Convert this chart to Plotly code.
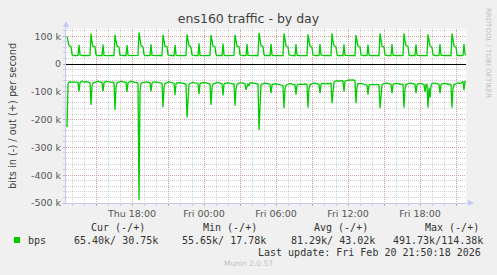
import plotly.graph_objects as go
import pandas as pd

# ---------------- data (k bits/s), one row per 2-hour cycle, 5-min samples ----------------
out_rows = [
    [99, 80, 66, 64, 63, 34, 30, 30, 31, 30, 30, 31, 69, 33, 30, 30, 31, 30, 30, 30, 31, 30, 30, 31],
    [110, 78, 64, 63, 62, 33, 30, 31, 30, 30, 31, 30, 70, 32, 30, 31, 30, 30, 31, 30, 30, 31, 30, 30],
    [105, 82, 65, 63, 61, 32, 31, 30, 30, 31, 30, 30, 68, 33, 30, 30, 31, 30, 30, 31, 30, 30, 30, 31],
    [114, 85, 66, 64, 62, 34, 30, 31, 30, 30, 30, 31, 71, 32, 31, 30, 30, 31, 30, 30, 31, 30, 31, 30],
    [105, 80, 64, 63, 62, 33, 30, 30, 31, 30, 31, 30, 69, 33, 30, 31, 30, 30, 30, 31, 30, 30, 31, 30],
    [107, 83, 66, 64, 61, 33, 31, 30, 30, 31, 30, 30, 75, 32, 30, 30, 31, 30, 31, 30, 30, 31, 30, 30],
    [104, 80, 65, 63, 62, 34, 30, 31, 30, 30, 31, 30, 74, 33, 30, 31, 30, 30, 30, 31, 30, 30, 30, 31],
    [105, 82, 64, 63, 62, 33, 30, 30, 31, 30, 30, 31, 72, 32, 31, 30, 30, 31, 30, 30, 31, 30, 30, 30],
    [112, 84, 66, 64, 63, 34, 30, 31, 30, 30, 31, 30, 73, 33, 30, 30, 31, 30, 30, 31, 30, 30, 31, 30, 30],
    [110, 82, 65, 63, 62, 33, 31, 30, 30, 31, 30, 30, 72, 32, 30, 31, 30, 30, 31, 30, 30, 30, 31, 30],
    [107, 80, 64, 63, 61, 33, 30, 30, 31, 30, 30, 31, 72, 33, 30, 30, 31, 30, 30, 31, 30, 31, 30, 30],
    [110, 83, 66, 64, 62, 34, 30, 31, 30, 30, 31, 30, 71, 32, 31, 30, 30, 30, 31, 30, 30, 31, 30, 30],
    [104, 80, 65, 63, 62, 33, 30, 30, 31, 30, 30, 31, 70, 33, 30, 31, 30, 30, 30, 31, 30, 30, 31, 30],
    [110, 82, 64, 63, 62, 34, 31, 30, 30, 31, 30, 30, 72, 32, 30, 30, 31, 30, 30, 31, 30, 30, 30, 31],
    [110, 84, 66, 64, 63, 33, 30, 31, 30, 30, 31, 30, 71, 33, 30, 30, 30, 31, 30, 30, 31, 30, 30, 30],
    [107, 80, 65, 63, 61, 34, 30, 30, 31, 30, 30, 31, 72, 32, 31, 30, 30, 31, 30, 30, 30, 31, 30, 30],
    [110, 82, 65, 63, 62, 33, 30, 31, 30, 30, 30, 31, 72, 36, 31],
]

in_rows = [
    [-227, -72, -65, -64, -66, -65, -63, -64, -65, -64, -65, -66, -99, -67, -64, -62, -63, -64, -65, -63, -64, -66, -65, -67],
    [-147, -80, -68, -66, -65, -64, -63, -62, -64, -65, -66, -65, -99, -68, -63, -62, -63, -64, -63, -64, -65, -66, -65, -67],
    [-165, -82, -68, -66, -64, -63, -62, -63, -65, -64, -66, -65, -100, -68, -64, -63, -62, -63, -64, -65, -64, -66, -68, -70],
    [-490, -95, -70, -67, -66, -65, -64, -63, -64, -65, -66, -67, -99, -69, -65, -64, -63, -64, -65, -66, -65, -67, -68, -69],
    [-155, -82, -70, -68, -66, -65, -64, -65, -66, -67, -68, -69, -111, -72, -68, -67, -66, -67, -68, -69, -68, -70, -71, -72],
    [-192, -135, -74, -70, -68, -67, -66, -67, -68, -67, -69, -70, -108, -72, -68, -67, -66, -67, -68, -67, -69, -70, -71, -72],
    [-147, -85, -72, -70, -68, -67, -66, -67, -68, -69, -70, -71, -113, -73, -69, -68, -67, -68, -69, -70, -69, -70, -71, -72],
    [-150, -88, -73, -70, -69, -68, -67, -68, -69, -70, -71, -93, -75, -70, -78, -68, -67, -68, -69, -70, -69, -70, -71, -72],
    [-237, -110, -75, -72, -70, -69, -68, -69, -70, -71, -72, -73, -105, -76, -72, -71, -70, -71, -72, -73, -72, -74, -75, -76, -77],
    [-159, -90, -76, -74, -72, -71, -70, -71, -72, -73, -74, -75, -110, -77, -73, -72, -71, -72, -73, -74, -73, -72, -73, -74],
    [-157, -88, -74, -72, -70, -69, -68, -69, -70, -71, -72, -73, -105, -74, -70, -69, -70, -71, -70, -69, -70, -71, -70, -69],
    [-141, -80, -64, -62, -61, -60, -62, -61, -60, -59, -60, -61, -99, -62, -60, -59, -58, -57, -58, -57, -56, -57, -58, -60],
    [-141, -82, -70, -72, -71, -70, -71, -72, -73, -74, -75, -76, -110, -76, -74, -73, -72, -73, -74, -75, -74, -73, -74, -75],
    [-159, -92, -74, -72, -70, -69, -68, -69, -70, -71, -72, -73, -105, -75, -71, -70, -69, -70, -71, -72, -71, -72, -73, -74],
    [-157, -90, -74, -72, -70, -69, -68, -69, -70, -71, -72, -73, -105, -75, -71, -70, -69, -70, -71, -72, -73, -100, -74, -73],
    [-157, -85, -120, -80, -70, -69, -68, -69, -70, -71, -72, -73, -105, -75, -71, -70, -69, -70, -71, -72, -71, -72, -73, -74],
    [-157, -88, -74, -72, -70, -69, -68, -69, -70, -68, -66, -64, -93, -63, -65],
]

y_tick_values = [100000, 0, -100000, -200000, -300000, -400000, -500000]
y_tick_labels = ["100 k", "0", "-100 k", "-200 k", "-300 k", "-400 k", "-500 k"]

x_tick_values = ["2026-02-19 15:00", "2026-02-19 18:00", "2026-02-19 21:00", "2026-02-20 00:00",
                 "2026-02-20 03:00", "2026-02-20 06:00", "2026-02-20 09:00", "2026-02-20 12:00",
                 "2026-02-20 15:00", "2026-02-20 18:00", "2026-02-20 21:00"]
x_tick_labels = ["", "Thu 18:00", "", "Fri 00:00", "", "Fri 06:00", "", "Fri 12:00", "", "Fri 18:00", ""]

legend_headers = ["Cur (-/+)", "Min (-/+)", "Avg (-/+)", "Max (-/+)"]
legend_values = ["65.40k/ 30.75k", "55.65k/ 17.78k", "81.29k/ 43.02k", "491.73k/114.38k"]
series_name = "bps"
last_update = "Last update: Fri Feb 20 21:50:18 2026"

# ---------------------------------------------------------------------------
out_vals = [v * 1000 for row in out_rows for v in row]
in_vals = [v * 1000 for row in in_rows for v in row]
times = pd.date_range("2026-02-19 12:35", periods=len(out_vals), freq="5min")

W, H = 497, 275
L, R, T, B = 66, 31, 29, 72
PW, PH = W - L - R, H - T - B


def px(x):
    return (x - L) / PW


def py(y):
    return (H - B - y) / PH


GREEN = "#00CC00"
MAJ = "rgba(222,140,140,0.7)"
MIN = "rgba(185,185,185,0.65)"
AXC = "#c4c8f4"
DASH = "1px,1px"

fig = go.Figure()
fig.add_trace(go.Scatter(x=times, y=in_vals, mode="lines", line=dict(color=GREEN, width=1.3),
                         hoverinfo="skip", showlegend=False))
fig.add_trace(go.Scatter(x=times, y=out_vals, mode="lines", line=dict(color=GREEN, width=1.3),
                         hoverinfo="skip", showlegend=False))

tickfont = dict(family="DejaVu Sans", size=9.5, color="#555555")

fig.update_layout(
    width=W, height=H,
    margin=dict(l=L, r=R, t=T, b=B, pad=0),
    paper_bgcolor="#F0F0F0", plot_bgcolor="#FFFFFF",
    title=dict(text="ens160 traffic - by day", x=0.5, xref="container", xanchor="center",
               y=1 - 19 / H, yref="container", yanchor="middle",
               font=dict(family="DejaVu Sans", size=12.5, color="#404040")),
    xaxis=dict(
        type="date", range=["2026-02-19 12:30", "2026-02-20 21:50"],
        tickmode="array", tickvals=x_tick_values, ticktext=x_tick_labels,
        showgrid=True, gridcolor=MAJ, griddash=DASH, gridwidth=1,
        ticks="outside", ticklen=2, tickcolor=MAJ, tickfont=tickfont,
        showline=True, linecolor=AXC, linewidth=1, zeroline=False,
        minor=dict(dtick=3600000, tick0="2026-02-19 00:00", showgrid=True, gridcolor=MIN,
                   griddash=DASH, ticks="outside", ticklen=2, tickcolor=MIN),
        fixedrange=True,
    ),
    yaxis=dict(
        range=[-500000, 126000],
        tickmode="array", tickvals=y_tick_values, ticktext=y_tick_labels,
        showgrid=True, gridcolor=MAJ, griddash=DASH, gridwidth=1,
        ticks="outside", ticklen=2, tickcolor=MAJ, tickfont=tickfont,
        showline=True, linecolor=AXC, linewidth=1,
        zeroline=True, zerolinecolor="#000000", zerolinewidth=1,
        minor=dict(dtick=20000, tick0=0, showgrid=True, gridcolor=MIN,
                   griddash=DASH, ticks="outside", ticklen=2, tickcolor=MIN),
        fixedrange=True,
    ),
)

ann = []
# y-axis title
ann.append(dict(text="bits in (-) / out (+) per second", xref="paper", yref="paper",
                x=px(12), y=py(116), textangle=-90, showarrow=False,
                xanchor="center", yanchor="middle",
                font=dict(family="DejaVu Sans", size=9.8, color="#404040")))
# axis arrows
ann.append(dict(text="", xref="paper", yref="paper", x=0, y=py(21), ax=0, ay=9,
                showarrow=True, arrowhead=2, arrowsize=1.2, arrowwidth=1, arrowcolor=AXC))
ann.append(dict(text="", xref="paper", yref="paper", x=px(474), y=0, ax=-9, ay=0,
                showarrow=True, arrowhead=2, arrowsize=1.2, arrowwidth=1, arrowcolor=AXC))
# watermark
ann.append(dict(text="RRDTOOL / TOBI OETIKER", xref="paper", yref="paper",
                x=px(488), y=py(53), textangle=90, showarrow=False,
                xanchor="center", yanchor="middle",
                font=dict(family="DejaVu Sans", size=7, color="#c0c0c0")))
mono = dict(family="DejaVu Sans Mono", size=10, color="#333333")
hx = [89, 201, 312, 423]
vx = [72, 180, 289, 391]
for h, x in zip(legend_headers, hx):
    ann.append(dict(text=h, xref="paper", yref="paper", x=px(x), y=py(227.5),
                    xanchor="left", yanchor="middle", showarrow=False, font=mono))
for v, x in zip(legend_values, vx):
    ann.append(dict(text=v, xref="paper", yref="paper", x=px(x), y=py(240),
                    xanchor="left", yanchor="middle", showarrow=False, font=mono))
ann.append(dict(text=series_name, xref="paper", yref="paper", x=px(26), y=py(240),
                xanchor="left", yanchor="middle", showarrow=False, font=mono))
ann.append(dict(text=last_update, xref="paper", yref="paper", x=px(483), y=py(252),
                xanchor="right", yanchor="middle", showarrow=False, font=mono))
ann.append(dict(text="Munin 2.0.57", xref="paper", yref="paper", x=px(248), y=py(263.5),
                xanchor="center", yanchor="middle", showarrow=False,
                font=dict(family="DejaVu Sans", size=7.5, color="#c0c0c0")))
fig.update_layout(annotations=ann)

fig.add_shape(type="rect", xref="paper", yref="paper",
              x0=px(14), x1=px(20), y0=py(243), y1=py(237),
              fillcolor=GREEN, line=dict(width=0))

fig.write_html("out.html")
